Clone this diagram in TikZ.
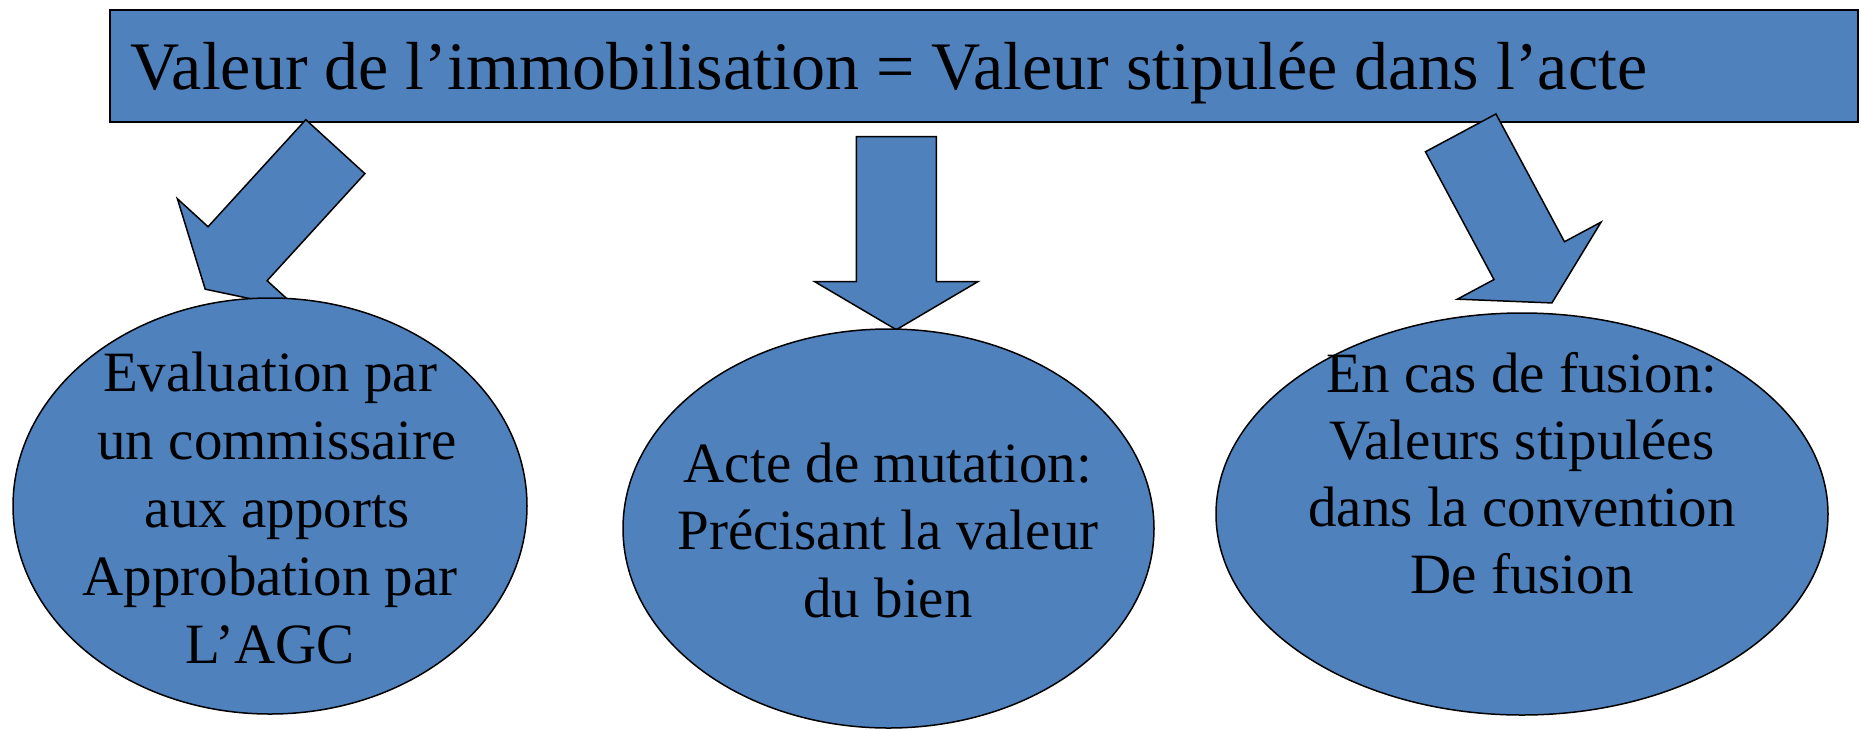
\documentclass[tikz,border=0pt]{standalone}
\usepackage{fontspec}
\setmainfont{Liberation Serif}
\usetikzlibrary{shapes.geometric}
\definecolor{boxblue}{RGB}{79,129,189}
\begin{document}
\begin{tikzpicture}[x=1pt,y=-1pt,
  shapefill/.style={fill=boxblue, draw=black, line width=1.5pt, line join=miter},
  bubble/.style={shapefill, ellipse, inner sep=0pt, outer sep=0pt},
  bubbletext/.style={font=\fontsize{57}{68}\selectfont, align=center, inner sep=0pt, anchor=base},
  blockarrow/.style={shapefill}]
\useasboundingbox (0,0) rectangle (1861,729);
% title box
\node[shapefill, rectangle, minimum width=1748pt, minimum height=112pt, inner sep=0pt, anchor=north west] (title) at (109,9) {};
\node[font=\fontsize{68}{80}\selectfont, inner sep=0pt, anchor=base west] (titletext) at (130,89) {Valeur de l’immobilisation = Valeur stipulée dans l’acte};
% block arrows
\begin{scope}[shift={(335.35,146.65)}, rotate=227.6]
\draw[blockarrow] (0,-40) -- (145,-40) -- (145,-81.5) -- (193,0) -- (145,81.5) -- (145,40) -- (0,40) -- cycle;
\end{scope}
\begin{scope}[shift={(896.3,136.7)}, rotate=270]
\draw[blockarrow] (0,-40) -- (145,-40) -- (145,-81.5) -- (193,0) -- (145,81.5) -- (145,40) -- (0,40) -- cycle;
\end{scope}
\begin{scope}[shift={(1460.7,132.85)}, rotate=-61.8]
\draw[blockarrow] (0,-40) -- (145,-40) -- (145,-81.5) -- (193,0) -- (145,81.5) -- (145,40) -- (0,40) -- cycle;
\end{scope}
% ellipses
\node[bubble, minimum width=514pt, minimum height=416pt] (e1) at (270,506) {};
\node[bubble, minimum width=531pt, minimum height=399pt] (e2) at (888.5,528.5) {};
\node[bubble, minimum width=612pt, minimum height=402pt] (e3) at (1522,514) {};
% texts (anchor base = baseline of the last line)
\node[bubbletext] (t1) at (270,663) {Evaluation par\\\hspace*{.25em}un commissaire\\\hspace*{.25em}aux apports\\Approbation par\hspace*{.25em}\\L’AGC};
\node[bubbletext, font=\fontsize{57}{67.5}\selectfont] (t2) at (888,617) {Acte de mutation:\\Précisant la valeur\\du bien};
\node[bubbletext, font=\fontsize{57}{67}\selectfont] (t3) at (1522,593) {En cas de fusion:\\Valeurs stipulées\hspace*{.25em}\\dans la convention\\De fusion};
\end{tikzpicture}
\end{document}
